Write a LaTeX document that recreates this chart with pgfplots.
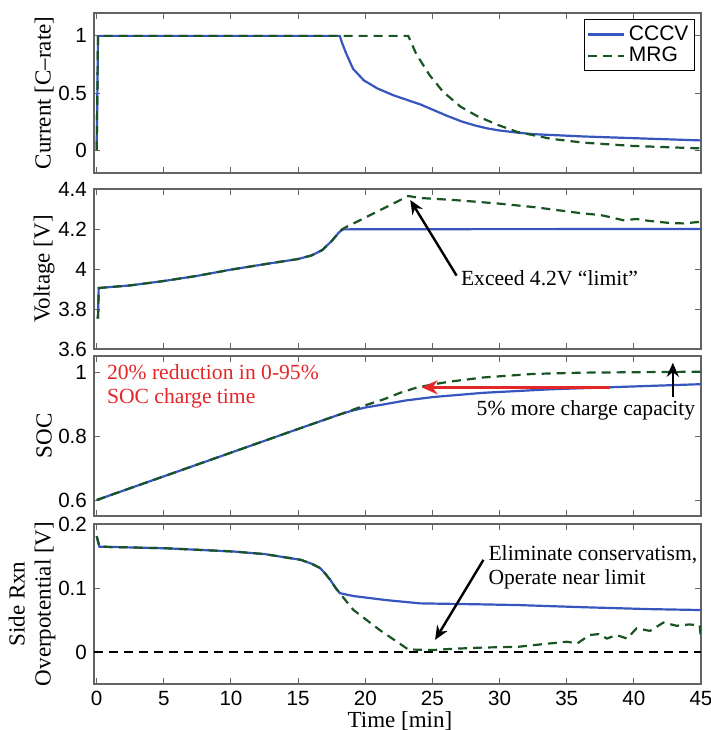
\documentclass[border=0pt]{standalone}
\usepackage{fontspec}
\setmainfont{Liberation Serif}
\setsansfont{Liberation Sans}
\usepackage{pgfplots}
\pgfplotsset{compat=1.18}
\usetikzlibrary{arrows.meta}

\definecolor{cccvblue}{RGB}{55,85,190}
\definecolor{mrggreen}{RGB}{25,85,35}
\definecolor{annred}{RGB}{228,38,40}
\definecolor{framegray}{RGB}{100,100,100}

\pgfplotsset{
  panel/.style={
    width=303.5pt, height=80pt, scale only axis,
    anchor=north west,
    xmin=-0.2, xmax=45,
    xtick={0,5,...,45},
    axis line style={framegray, line width=0.6pt},
    tick style={framegray, line width=0.5pt},
    tick align=inside,
    major tick length=3pt,
    /pgf/number format/assume math mode=true,
    tick label style={font=\sffamily\fontsize{10.3}{12}\selectfont, black},
    label style={font=\fontsize{11.5}{13}\selectfont},
    ylabel style={at={(axis description cs:-0.082,0.5)}, anchor=center},
  },
  cccvline/.style={cccvblue, line width=1.1pt},
  mrgline/.style={mrggreen, line width=1.1pt, dash pattern=on 4.5pt off 3pt},
}
\tikzset{ann/.style={font=\fontsize{10.8}{12.2}\selectfont, align=left, inner sep=0pt}}

\begin{document}
\begin{tikzpicture}
% current
\begin{axis}[panel, at={(0pt,0pt)},
  ymin=-0.2, ymax=1.2, ytick={0,0.5,1}, xticklabels={},
  ylabel={Current [C–rate]},
  legend style={at={(0.99,0.962)}, anchor=north east,
    font=\sffamily\fontsize{10.5}{11}\selectfont, draw=black, line width=0.5pt,
    inner sep=1pt, row sep=-2pt, cells={anchor=west}},
  legend image code/.code={\draw[#1] (0pt,0pt) -- (18pt,0pt);}]
\addplot[cccvline] coordinates {(0,0)(0.1,1)(18.1,1)(18.3,0.93)(18.6,0.84)(19.1,0.71)
  (19.9,0.61)(20.9,0.54)(22.1,0.48)(24.1,0.40)(26.1,0.30)(27.2,0.25)(28.2,0.215)
  (29.1,0.19)(30.0,0.172)(31.2,0.155)(32.5,0.14)(36.2,0.12)(41.2,0.10)(45,0.085)};
\addlegendentry{CCCV}
\addplot[mrgline] coordinates {(0,0)(0.1,1)(23.2,1)(23.8,0.84)(24.8,0.655)(25.8,0.51)
  (27.1,0.38)(28.3,0.30)(29.8,0.224)(31.3,0.16)(33.8,0.10)(36.2,0.066)(39.9,0.037)(45,0.015)};
\addlegendentry{MRG}
\end{axis}

% voltage
\begin{axis}[panel, at={(0pt,-88pt)},
  ymin=3.6, ymax=4.4, ytick={3.6,3.8,4,4.2,4.4}, xticklabels={},
  ylabel={Voltage [V]}]
\addplot[cccvline] coordinates {(0,3.757)(0.1,3.757)(0.15,3.905)(2.5,3.918)(5,3.94)
  (7.5,3.966)(10,3.997)(12.5,4.024)(15,4.05)(16,4.068)(16.8,4.095)(17.5,4.14)
  (18.0,4.18)(18.3,4.198)(20,4.199)(45,4.2)};
\addplot[mrgline] coordinates {(0,3.757)(0.1,3.757)(0.15,3.905)(2.5,3.918)(5,3.94)
  (7.5,3.966)(10,3.997)(12.5,4.024)(15,4.05)(16,4.068)(16.8,4.095)(17.5,4.14)
  (18.0,4.18)(18.3,4.20)(23.2,4.365)(24.1,4.355)(26.6,4.345)(29.8,4.328)(32.5,4.31)
  (36.2,4.278)(37.5,4.27)(38.2,4.26)(39.2,4.244)(40.2,4.25)
  (41.2,4.24)(42.7,4.23)(43.7,4.228)(44.8,4.235)(45,4.237)};
\draw[-{Stealth[length=7pt,width=6pt]}, line width=1.2pt] (axis cs:26.8,3.967) -- (axis cs:23.35,4.345);
\node[ann, anchor=west] at (axis cs:27.1,3.952) {Exceed 4.2V “limit”};
\end{axis}

% SOC
\begin{axis}[panel, at={(0pt,-171.5pt)},
  ymin=0.55, ymax=1.05, ytick={0.6,0.8,1}, xticklabels={},
  ylabel={SOC}]
\addplot[cccvline] coordinates {(0,0.6)(5,0.674)(10,0.748)(15,0.822)(18,0.866)(19,0.879)
  (20,0.889)(21.4,0.899)(23,0.911)(25.1,0.922)(28.8,0.935)(33.8,0.946)(38.7,0.953)(45,0.962)};
\addplot[mrgline] coordinates {(0,0.6)(5,0.674)(10,0.748)(15,0.822)(18,0.866)(19,0.881)
  (20,0.896)(21.4,0.915)(22.6,0.935)(23.8,0.951)(25,0.961)(26.3,0.970)(28.8,0.983)
  (32.5,0.994)(36.2,0.998)(45,1.001)};
\draw[-{Stealth[length=8pt,width=7pt]}, annred, line width=1.7pt] (axis cs:38.2,0.952) -- (axis cs:24.2,0.952);
\draw[-{Stealth[length=7pt,width=6pt]}, line width=1.2pt] (axis cs:42.9,0.923) -- (axis cs:42.9,1.029);
\node[ann, anchor=west, text=annred] at (axis cs:0.74,0.955) {20\% reduction in 0-95\%\\SOC charge time};
\node[ann, anchor=east] at (axis cs:44.6,0.881) {5\% more charge capacity};
\end{axis}

% side reaction overpotential
\begin{axis}[panel, at={(0pt,-255.5pt)},
  ymin=-0.05, ymax=0.2, ytick={0,0.1,0.2},
  ylabel={Side Rxn\\Overpotential [V]},
  ylabel style={align=center, at={(axis description cs:-0.102,0.5)}},
  xlabel={Time [min]},
  xlabel style={at={(axis description cs:0.504,-0.231)}, anchor=center}]
\addplot[black, line width=1.1pt, dash pattern=on 4.5pt off 3pt] coordinates {(-0.2,0)(45,0)};
\addplot[cccvline] coordinates {(0,0.181)(0.2,0.1646)(5.25,0.162)(10.2,0.157)(12.5,0.153)
  (15.2,0.144)(16,0.138)(16.65,0.131)(17,0.123)(17.4,0.1125)(17.8,0.100)(18.1,0.092)
  (19.1,0.0875)(21.6,0.081)(24.1,0.076)(28.5,0.0745)(31.3,0.0734)(36.2,0.070)
  (41.2,0.067)(45,0.0656)};
\addplot[mrgline] coordinates {(0,0.181)(0.2,0.1646)(5.25,0.162)(10.2,0.157)(12.5,0.153)
  (15.2,0.144)(16,0.138)(16.65,0.131)(17,0.123)(17.4,0.1125)(17.8,0.100)(18.1,0.092)
  (19.1,0.066)(21.1,0.034)(23.2,0.004)(25,0.003)(26.5,0.005)
  (28.8,0.007)(31.3,0.008)(33.8,0.0135)(35.0,0.016)(35.8,0.0135)(36.7,0.0266)
  (37.4,0.028)(38.0,0.021)(38.7,0.0266)(39.5,0.021)(40.2,0.037)(41.2,0.033)
  (42.2,0.046)(43.2,0.041)(44.1,0.043)(44.9,0.042)(45,0.02)};
\draw[-{Stealth[length=7pt,width=6pt]}, line width=1.2pt] (axis cs:28.8,0.144) -- (axis cs:25.2,0.019);
\node[ann, anchor=west] at (axis cs:29.15,0.132) {Eliminate conservatism,\\Operate near limit};
\end{axis}

\pgfresetboundingbox
\useasboundingbox (-47pt,6.5pt) rectangle (308.5pt,-358.5pt);
\end{tikzpicture}
\end{document}
